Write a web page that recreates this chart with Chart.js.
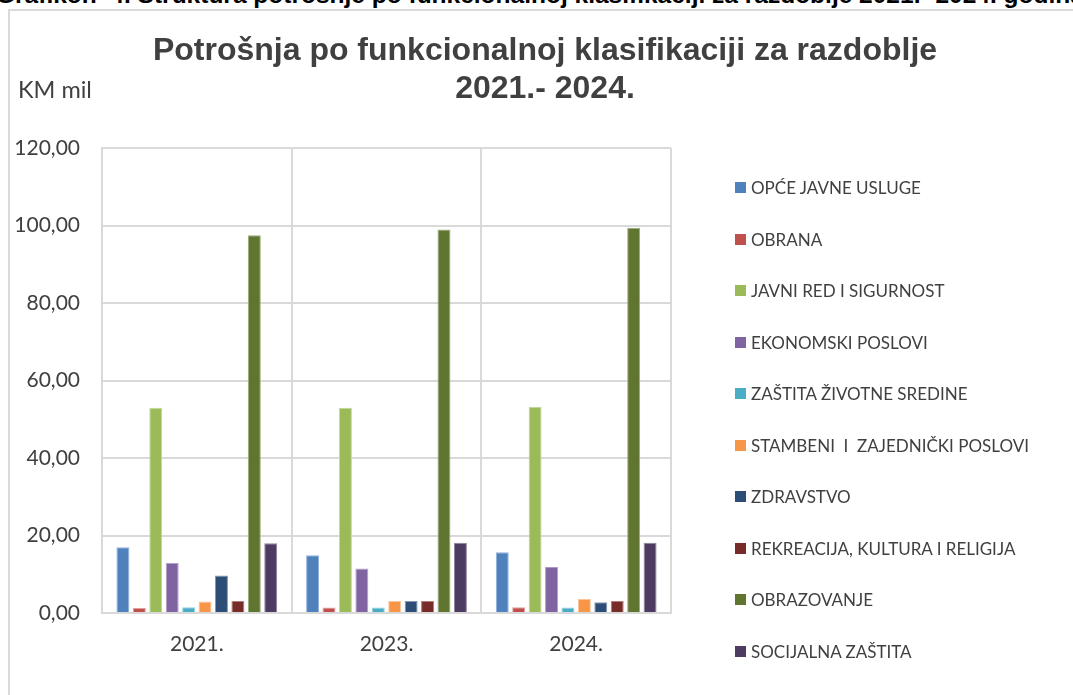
<!DOCTYPE html>
<html>
<head>
<meta charset="utf-8">
<script src="https://cdn.jsdelivr.net/npm/chart.js@4.4.1/dist/chart.umd.min.js"></script>
<style>
  html, body { margin: 0; padding: 0; background: #fff; }
  body { width: 1073px; height: 695px; position: relative; overflow: hidden; }
  #header { position: absolute; left: -4px; top: -18px; white-space: pre;
    font: bold 24.5px "Liberation Sans", Arial, sans-serif; color: #000; line-height: 26px; }
  #frame { position: absolute; left: 8px; top: 9px; width: 1200px; height: 800px;
    border-left: 2px solid #d9d9d9; border-top: 2px solid #d9d9d9; }
  #wrap { position: absolute; left: 0; top: 0; width: 1073px; height: 695px; }
  #title { position: absolute; left: 95px; width: 900px; top: 30px; text-align: center;
    font: bold 32px "Liberation Sans", Arial, sans-serif; color: #404040; line-height: 38px; }
  #unit { position: absolute; left: 18px; top: 75px; font: 23.5px Lato, sans-serif; color: #404040; }
  #legend { position: absolute; left: 0; top: 0; }
  .li { position: absolute; left: 735px; height: 20px; white-space: pre;
    font: 17px Lato, sans-serif; color: #404040; line-height: 20px; }
  .li span.sw { position: absolute; left: 0; top: 4px; width: 11px; height: 11px; }
  .li span.tx { position: absolute; left: 16px; top: 0; }
</style>
</head>
<body>
<div id="header">Grafikon  4. Struktura potrošnje po funkcionalnoj klasifikaciji za razdoblje 2021.- 2024. godina</div>
<div id="frame"></div>
<div id="wrap"><canvas id="c" width="1073" height="695"></canvas></div>
<div id="title">Potrošnja po funkcionalnoj klasifikaciji za razdoblje<br>2021.- 2024.</div>
<div id="unit">KM mil</div>
<div id="legend"></div>
<script>
const categories = ["2021.", "2023.", "2024."];
const seriesNames = [
  "OPĆE JAVNE USLUGE",
  "OBRANA",
  "JAVNI RED I SIGURNOST",
  "EKONOMSKI POSLOVI",
  "ZAŠTITA ŽIVOTNE SREDINE",
  "STAMBENI  I  ZAJEDNIČKI POSLOVI",
  "ZDRAVSTVO",
  "REKREACIJA, KULTURA I RELIGIJA",
  "OBRAZOVANJE",
  "SOCIJALNA ZAŠTITA"
];
const opceJavneUsluge   = [17.0, 14.9, 15.7];
const obrana            = [1.3, 1.4, 1.5];
const javniRed          = [53.0, 53.0, 53.2];
const ekonomskiPoslovi  = [12.9, 11.5, 11.9];
const zastitaSredine    = [1.5, 1.4, 1.4];
const stambeniPoslovi   = [3.0, 3.1, 3.6];
const zdravstvo         = [9.7, 3.1, 2.8];
const rekreacija        = [3.1, 3.1, 3.1];
const obrazovanje       = [97.5, 99.0, 99.4];
const socijalnaZastita  = [18.0, 18.1, 18.1];
const yTicks = [0, 20, 40, 60, 80, 100, 120];

const seriesValues = [opceJavneUsluge, obrana, javniRed, ekonomskiPoslovi, zastitaSredine,
  stambeniPoslovi, zdravstvo, rekreacija, obrazovanje, socijalnaZastita];
const colors = ["#4F81BD", "#C0504D", "#9BBB59", "#8064A2", "#4BACC6",
  "#F79646", "#2C4D75", "#772C2A", "#5F7530", "#4D3B62"];
const borders = ["#8FAEDB", "#E0A09E", "#C3D99B", "#B3A0C9", "#93D0E0",
  "#FBC49A", "#8499B5", "#B27E7C", "#9CAD7A", "#8E819E"];

const datasets = seriesNames.map((n, i) => ({
  label: n,
  data: seriesValues[i],
  backgroundColor: colors[i],
  borderColor: borders[i],
  borderWidth: 1,
  categoryPercentage: 0.866,
  barPercentage: 0.79
}));

const leg = document.getElementById('legend');
seriesNames.forEach((n, i) => {
  const d = document.createElement('div');
  d.className = 'li';
  d.style.top = (188 + i * 51.55 - 10) + 'px';
  d.innerHTML = '<span class="sw" style="background:' + colors[i] + '"></span><span class="tx"></span>';
  d.querySelector('.tx').textContent = n;
  leg.appendChild(d);
});

new Chart(document.getElementById('c'), {
  type: 'bar',
  data: { labels: categories, datasets },
  options: {
    responsive: false,
    animation: false,
    layout: { padding: { left: 0, top: 148, right: 402, bottom: 0 } },
    plugins: { legend: { display: false }, title: { display: false }, tooltip: { enabled: false } },
    scales: {
      x: {
        grid: { color: '#d9d9d9', lineWidth: 2, drawTicks: false, offset: true },
        border: { color: '#d9d9d9', width: 2 },
        ticks: { color: '#404040', font: { family: 'Lato', size: 21 }, padding: 19 },
        afterFit: s => { s.height = 82; }
      },
      y: {
        min: 0, max: 120,
        afterBuildTicks: s => { s.ticks = yTicks.map(v => ({ value: v })); },
        grid: { color: '#d9d9d9', lineWidth: 2, drawTicks: false },
        border: { color: '#d9d9d9', width: 2 },
        ticks: {
          color: '#404040', font: { family: 'Lato', size: 21 }, padding: 22,
          callback: v => v.toFixed(2).replace('.', ',')
        },
        afterFit: s => { s.width = 102; }
      }
    }
  }
});
</script>
</body>
</html>
